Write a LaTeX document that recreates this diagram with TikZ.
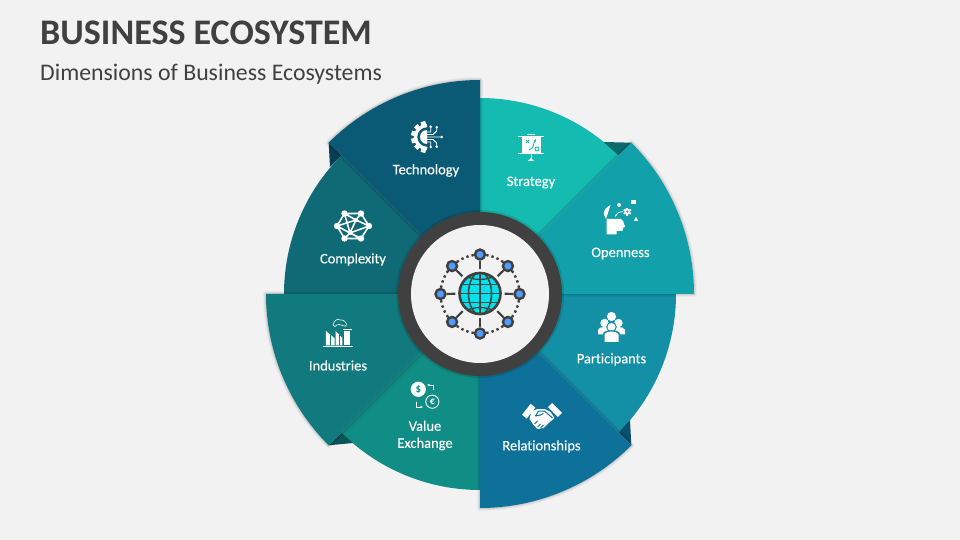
\documentclass[tikz,border=0pt]{standalone}
\usepackage{fontspec}
\setmainfont[Ligatures=NoCommon]{Carlito}
\newfontfamily\lblfont[Ligatures=NoCommon, FakeBold=0.25]{Carlito}
\usepackage{tikz}
\usetikzlibrary{arrows.meta}
\definecolor{page}{HTML}{F2F2F2}
\definecolor{ink}{HTML}{404040}
\definecolor{tech}{HTML}{0B5A75}
\definecolor{complex}{HTML}{0F6A76}
\definecolor{strat}{HTML}{14BBB0}
\definecolor{open}{HTML}{12A1AA}
\definecolor{partic}{HTML}{138FA6}
\definecolor{relat}{HTML}{0E7199}
\definecolor{exch}{HTML}{108D84}
\definecolor{indus}{HTML}{107A7E}
\definecolor{cyanglobe}{HTML}{00E3EC}
\definecolor{hubblue}{HTML}{4F9BFF}
\tikzset{
  lbl/.style={white, font=\lblfont\fontsize{14.5}{17}\selectfont, align=center, inner sep=0pt},
  hubdot/.style={circle, draw=ink, line width=2.4, fill=hubblue, minimum size=10pt, inner sep=0pt},
  hubline/.style={ink, line width=2.2},
  thinwhite/.style={white, line width=0.9},
}
% one slice of the ring: start angle, end angle, radius, colour
\newcommand{\slice}[4]{
  \fill[#4] (0, 0) -- (#1:#3pt) arc[start angle=#1, end angle=#2, radius=#3pt] -- cycle;
}
% the same slice with a soft edge round it
\newcommand{\longslice}[4]{
  \foreach \w/\o in {6/0.03, 4/0.05, 2/0.08} {
    \draw[black, line width=\w, opacity=\o, line join=round]
      (0, 0) -- (#1:#3pt) arc[start angle=#1, end angle=#2, radius=#3pt] -- cycle;
  }
  \slice{#1}{#2}{#3}{#4}
}
\begin{document}
\begin{tikzpicture}[x=1pt, y=1pt]
  \fill[page] (-480, -246) rectangle (480, 294);
  \useasboundingbox (-480, -246) rectangle (480, 294);

  \node[anchor=base west, ink, inner sep=0pt, font=\fontsize{36}{40}\selectfont\bfseries] (title)
    at (-440, 249) {BUSINESS ECOSYSTEM};
  \node[anchor=base west, ink, inner sep=0pt, font=\fontsize{23.8}{28}\selectfont] (subtitle)
    at (-440, 213.5) {Dimensions of Business Ecosystems};

  % short slices
  \slice{90}{45}{196}{strat}
  \slice{0}{-45}{196}{partic}
  \slice{-90}{-135}{196}{exch}
  \slice{180}{135}{196}{complex}

  % folds behind the long slices
  \fill[black!35!open] (45:214pt) -- (45:196pt) -- (123.5, 152) -- cycle;
  \fill[black!30!tech] (135:214pt) -- (135:196pt) -- (-150, 127) -- cycle;
  \fill[black!30!relat] (-45:214pt) -- (-45:196pt) -- (150, -126) -- cycle;
  \fill[black!30!indus] (-135:214pt) -- (-135:196pt) -- (-127, -149) -- cycle;

  % long slices
  \longslice{45}{0}{214}{open}
  \longslice{-45}{-90}{214}{relat}
  \longslice{-135}{-180}{214}{indus}
  \longslice{135}{90}{214}{tech}

  % middle of the ring
  \fill[black, opacity=0.12] (0, 0) circle (84);
  \fill[ink] (0, 0) circle (82);
  \fill[page] (0, 0) circle (69);

  \node[circle, minimum size=43pt, inner sep=0pt] (globe) at (0, 0.5) {};
  \begin{scope}
    \clip (globe.center) circle (20.5);
    \fill[cyanglobe] (globe.center) circle (20.5);
    \draw[hubline, line width=1.5] (-22, 0.5) -- (22, 0.5) (0, -22) -- (0, 22);
    \draw[hubline, line width=1.5] (-22, 9.5) -- (22, 9.5) (-22, -8.5) -- (22, -8.5);
    \draw[hubline, line width=1.5] (globe.center) ellipse (11.5 and 21);
    \draw[hubline, line width=1.3] (-16, 19) .. controls (-7, 13) and (7, 13) .. (16, 19);
    \draw[hubline, line width=1.3] (-16, -18) .. controls (-7, -12) and (7, -12) .. (16, -18);
  \end{scope}
  \draw[hubline, line width=2.6] (globe.center) circle (20.5);

  \foreach [count=\n] \a in {90, 45, 0, -45, -90, -135, 180, 135} {
    \node[hubdot] (hub\n) at (\a:39.5pt) {};
    \draw[hubline, shorten <=3pt] (globe) -- (hub\n);
    \draw[ink, line width=2.4, dash pattern=on 2.4pt off 3pt]
      (\a-9:39.5pt) arc[start angle=\a-9, end angle=\a-36, radius=39.5pt];
  }

  % technology
  \begin{scope}[shift={(-53, 157)}]
    \foreach \a in {105, 135, 165, 195, 225, 255} {
      \fill[white, rotate=\a] (12, -2.4) rectangle (16, 2.4);
    }
    \draw[white, line width=3.4] (0, 11.5) arc[start angle=90, end angle=270, radius=11.5pt];
    \fill[white] (0, 7) arc[start angle=90, end angle=270, radius=7pt] -- cycle;
    \draw[thinwhite] (0, 0) -- (14, 0) (0, 2.5) -- (6, 2.5) -- (9.7, 6) -- (9.7, 9.7)
      (0, -2.5) -- (6, -2.5) -- (9.7, -6) -- (9.7, -9.7)
      (0, 5) -- (3.7, 5) -- (3.7, 10) (0, -5) -- (3.7, -5) -- (3.7, -10);
    \foreach \p in {(14.7, 0), (9.7, 9.7), (9.7, -9.7), (3.7, 10.3), (3.7, -10)} {
      \fill[white] \p circle (1.4);
    }
  \end{scope}

  % complexity
  \begin{scope}[shift={(-127, 68)}]
    \coordinate (c1) at (-8.5, 12.5);
    \coordinate (c2) at (8, 12.5);
    \coordinate (c3) at (16, 0);
    \coordinate (c4) at (8, -12.5);
    \coordinate (c5) at (-8.5, -12.5);
    \coordinate (c6) at (-16, 0);
    \coordinate (c7) at (-3, -7);
    \coordinate (c8) at (3, 6);
    \draw[white, line width=1.6, line join=round]
      (c1) -- (c2) -- (c3) -- (c4) -- (c5) -- (c6) -- cycle
      (c1) -- (c8) -- (c2) (c8) -- (c3) (c8) -- (c7) (c7) -- (c4) (c7) -- (c5)
      (c7) -- (c3) (c7) -- (c6) (c1) -- (c7) (c8) -- (c6);
    \foreach \i in {1, ..., 6} {
      \fill[white] (c\i) circle (3.2);
    }
    \fill[white] (c7) circle (2.2) (c8) circle (2.2);
  \end{scope}

  % strategy
  \begin{scope}[shift={(51, 148)}]
    \fill[white] (-9.5, -7) rectangle (9.5, 9);
    \draw[white, line width=0.9] (-13, 9.5) -- (13, 9.5) (-13, -7) -- (13, -7) (-4, 12) -- (4, 12);
    \draw[white, line width=1] (0, -7) -- (0, -13);
    \fill[white] (-3, -15) -- (0, -12) -- (3, -15) -- cycle;
    \draw[strat, line width=0.9] (-5, 6) -- (-2, 3) (-5, 3) -- (-2, 6);
    \draw[strat, line width=0.9, -{Stealth[length=3pt]}] (-2, -4) .. controls (3, -3) and (2, 2) .. (5, 7);
    \draw[strat, line width=0.9] (6, -3) circle (2);
  \end{scope}

  % openness
  \begin{scope}[shift={(140, 82)}]
    \fill[white] (-13.3, -7) -- (0.7, -7) .. controls (3, -8) and (4, -10) .. (4, -12)
      -- (5.2, -14.5) -- (3, -16) -- (2.5, -19) -- (-3.5, -19) -- (-3.5, -22.3) -- (-13.3, -22.3) -- cycle;
    \fill[white] (-9.5, 7) .. controls (-14, 5) and (-17, 1) .. (-16, -3)
      -- (-14, -7) -- cycle;
    \fill[white] (-1, 7) circle (2);
    \fill[white] (11.3, 8) rectangle (15.7, 12.3);
    \fill[white] (14, -8.8) -- (18, -8.8) -- (16, -5) -- cycle;
    \fill[white] (7.3, 0.3) circle (3);
    \foreach \a in {0, 60, ..., 300} {
      \fill[white, rotate around={\a:(7.3, 0.3)}] (6.4, 3) rectangle (8.2, 4.4);
    }
    \fill[open] (7.3, 0.3) circle (1.2);
    \draw[white, line width=0.7, -{Stealth[length=2.5pt]}] (2.8, 0.3) .. controls (-1, 0.3) and (-3.5, -1.5) .. (-5, -5);
  \end{scope}

  % participants
  \begin{scope}[shift={(131.5, -34)}]
    \fill[white] (0, 11.5) circle (4.6);
    \fill[white] (-7, 5) circle (4.2) (7, 5) circle (4.2);
    \fill[white] (-13.5, -6.5) -- (-13.5, -2) .. controls (-13.5, 2) and (-1, 2) .. (-1, -2) -- (-1, -6.5) -- cycle;
    \fill[white] (13.5, -6.5) -- (13.5, -2) .. controls (13.5, 2) and (1, 2) .. (1, -2) -- (1, -6.5) -- cycle;
    \fill[partic] (0, 1) circle (5.2);
    \fill[white] (0, 1) circle (4);
    \fill[partic] (-8.5, -14) -- (-8.5, -6) .. controls (-8.5, -1) and (8.5, -1) .. (8.5, -6) -- (8.5, -14) -- cycle;
    \fill[white] (-7, -14) -- (-7, -7) .. controls (-7, -2.5) and (7, -2.5) .. (7, -7) -- (7, -14) -- cycle;
  \end{scope}

  % relationships
  \begin{scope}[shift={(61.5, -123)}]
    \fill[white, rotate around={-38:(-12.8, 5.8)}] (-15.8, -1.2) rectangle (-9.8, 12.8);
    \fill[white, rotate around={45:(13.5, 7)}] (10.5, 0) rectangle (16.5, 14);
    \fill[white] (-10, 6) -- (-4, 8) -- (3, 8) -- (9, 5) -- (13, -1) -- (6, -7) -- (2, -11)
      -- (-4, -12) -- (-8, -8) -- (-12, -2) -- cycle;
    \draw[relat, line width=1, line join=round] (11, -1) -- (3, 6) -- (-3, 6) -- (-6, 1) -- (-1, 2) -- (2, 3.5);
    \draw[relat, line width=0.8] (-7, -7) -- (-4, -4) (-4, -10) -- (-1, -7) (-1, -11) -- (2, -8);
  \end{scope}

  % value exchange
  \begin{scope}[shift={(-55, -101)}]
    \fill[white] (-6.7, 5.7) circle (7.6);
    \node[exch, inner sep=0pt, font=\fontsize{11}{11}\selectfont\bfseries] (dollar) at (-6.7, 5.7) {\$};
    \draw[white, line width=0.9] (7.3, -6.7) circle (6.6);
    \node[white, inner sep=0pt, font=\fontsize{10}{10}\selectfont\bfseries] (euro) at (7.3, -6.7) {€};
    \draw[white, line width=0.9, -{Stealth[length=3pt]}] (8, 5) -- (8, 10) -- (2, 10);
    \draw[white, line width=0.9, -{Stealth[length=3pt]}] (-8.5, -6.5) -- (-8.5, -12) -- (-2, -12);
  \end{scope}

  % industries
  \begin{scope}[shift={(-142, -41)}]
    \draw[white, line width=1] (-15.3, -11.7) -- (15, -11.7);
    \fill[white] (-12, -10.5) -- (-12, 4) -- (-3.3, -3.3) -- (-3.3, -10.5) -- cycle;
    \fill[white] (-2.3, -10.5) -- (-2.3, 4) -- (4.3, -3) -- (4.3, -10.5) -- cycle;
    \fill[white] (6.3, -10.5) rectangle (12, 3.8);
    \fill[white] (4.7, 4.5) rectangle (13.7, 6.2);
    \draw[indus, line width=0.6] (-7.5, -10.5) -- (-7.5, 0) (1, -10.5) -- (1, 0);
    \draw[white, line width=0.6] (-5, 10) .. controls (-4, 14) and (-1, 17) .. (2, 15)
      .. controls (5, 16) and (10, 12) .. (8, 9) .. controls (5, 8) and (2, 12) .. (-1, 10)
      .. controls (-2, 8) and (-4, 8) .. (-5, 10);
  \end{scope}

  % labels
  \node[lbl] (technology) at (-54, 123.5) {Technology};
  \node[lbl] (complexity) at (-127, 34.5) {Complexity};
  \node[lbl] (strategy) at (51, 111.5) {Strategy};
  \node[lbl] (openness) at (140.5, 40.5) {Openness};
  \node[lbl] (participants) at (131.5, -65.5) {Participants};
  \node[lbl] (relationships) at (61.5, -152.5) {Relationships};
  \node[lbl] (exchange) at (-55, -141.5) {Value\\Exchange};
  \node[lbl] (industries) at (-142, -71.5) {Industries};
\end{tikzpicture}
\end{document}
